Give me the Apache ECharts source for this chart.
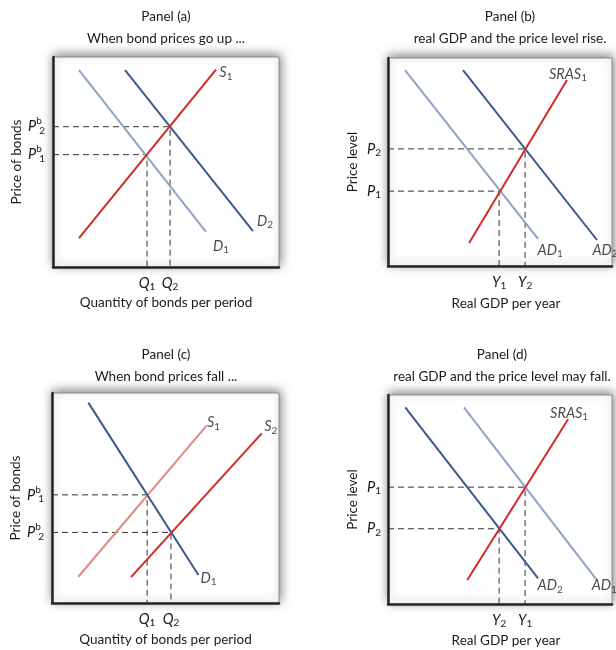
<!DOCTYPE html>
<html><head><meta charset="utf-8">
<script src="https://cdn.jsdelivr.net/npm/echarts@6/dist/echarts.min.js"></script>
<style>html,body{margin:0;padding:0;background:#fff}#c{width:616px;height:650px}</style>
</head><body><div id="c"></div>
<script>
// ---------- data (axes run 0..100 in each panel) ----------
// Panel (a)
const aS1 = [[11.5, 13.8], [72.1, 94.0]];
const aD1 = [[11.5, 93.8], [67.7, 16.7]];
const aD2 = [[31.9, 93.8], [88.5, 17.1]];
const aQ = [41.6, 51.8];
const aP = [53.5, 66.8];
const aQLabels = ['1', '2'];
const aPLabels = ['1', '2'];
// Panel (b)
const bAD1 = [[7.6, 94.2], [67.0, 13.0]];
const bAD2 = [[33.5, 94.2], [93.3, 12.5]];
const bSRAS = [[36.2, 11.1], [79.9, 89.4]];
const bY = [49.6, 61.2];
const bP = [36.0, 56.3];
const bYLabels = ['1', '2'];
const bPLabels = ['1', '2'];
// Panel (c)
const cD1 = [[16.0, 95.4], [64.5, 13.3]];
const cS1 = [[11.6, 12.5], [68.1, 84.5]];
const cS2 = [[34.8, 12.3], [92.4, 80.8]];
const cQ = [41.9, 52.4];
const cP = [51.5, 33.6];
const cQLabels = ['1', '2'];
const cPLabels = ['1', '2'];
// Panel (d)
const dAD2 = [[7.7, 94.1], [67.0, 12.3]];
const dAD1 = [[33.9, 94.1], [93.0, 11.8]];
const dSRAS = [[35.4, 11.5], [80.4, 88.4]];
const dY = [49.6, 61.2];
const dP = [36.0, 55.9];
const dYLabels = ['2', '1'];
const dPLabels = ['2', '1'];

const panelTitles = ['Panel (a)', 'Panel (b)', 'Panel (c)', 'Panel (d)'];
const panelSubtitles = ['When bond prices go up ...', 'real GDP and the price level rise.',
  'When bond prices fall ...', 'real GDP and the price level may fall.'];
const xNames = ['Quantity of bonds per period', 'Real GDP per year', 'Quantity of bonds per period', 'Real GDP per year'];
const yNames = ['Price of bonds', 'Price level', 'Price of bonds', 'Price level'];

// ---------- styles ----------
const FONT = 'Lato, "Open Sans", sans-serif';
const TXT = '#1a1a1a';
const FS = 13.5;
const RED = '#d02b27', LRED = '#e38883', DBLUE = '#3b5a8c', LBLUE = '#8fa3c5';
const rich = {
  i: {fontFamily: FONT, fontSize: 14.5, fontStyle: 'italic', color: TXT},
  sub: {fontFamily: FONT, fontSize: 10, color: TXT, padding: [8, 0, 0, 0]},
  sb: {fontFamily: FONT, fontSize: 10, color: TXT, width: 0.1, align: 'left', padding: [0, 0, 11, 3]}
};

const grids = [
  {left: 53, top: 57, width: 226, height: 210},
  {left: 388, top: 58, width: 224, height: 208},
  {left: 52, top: 393, width: 227, height: 210},
  {left: 388, top: 395, width: 224, height: 209}
].map(g => Object.assign(g, {
  show: true, backgroundColor: '#fff', borderColor: '#8a8a8a', borderWidth: 1,
  shadowColor: 'rgba(0,0,0,0.5)', shadowBlur: 10, shadowOffsetX: 1, shadowOffsetY: -2
}));

const xTick = [aQ, bY, cQ, dY];
const xTickLab = [aQLabels, bYLabels, cQLabels, dYLabels];
const xLetter = ['Q', 'Y', 'Q', 'Y'];
const yTick = [aP, bP, cP, dP];
const yTickLab = [aPLabels, bPLabels, cPLabels, dPLabels];
const ySup = [true, false, true, false];
const xGap = [29, 31, 30, 30];
const yGap = [27, 28, 27, 28];

const axisLine = {show: true, onZero: false, lineStyle: {color: '#262626', width: 2.5}};

const xAxis = grids.map((g, i) => ({
  type: 'value', gridIndex: i, min: 0, max: 100,
  axisLine, axisTick: {show: false}, splitLine: {show: false},
  axisLabel: {
    customValues: xTick[i], margin: 7, rich,
    formatter: v => '{i|' + xLetter[i] + '}{sub|' + xTickLab[i][xTick[i].indexOf(v)] + '}'
  },
  name: xNames[i], nameLocation: 'middle', nameGap: xGap[i],
  nameTextStyle: {fontFamily: FONT, fontSize: FS, color: TXT, padding: i % 2 ? [0, 0, 0, 12] : 0}
}));
const yAxis = grids.map((g, i) => ({
  type: 'value', gridIndex: i, min: 0, max: 100,
  axisLine, axisTick: {show: false}, splitLine: {show: false},
  axisLabel: {
    customValues: yTick[i], margin: ySup[i] ? 8 : 7, rich,
    formatter: v => {
      const k = yTickLab[i][yTick[i].indexOf(v)];
      return ySup[i] ? '{i|P}{sb|b}{sub|' + k + '}' : '{i|P}{sub|' + k + '}';
    }
  },
  name: yNames[i], nameLocation: 'middle', nameGap: yGap[i], nameRotate: 90,
  nameTextStyle: {fontFamily: FONT, fontSize: FS, color: TXT}
}));

const series = [];
function guides(gi, Q, P) {
  Q.forEach((q, k) => series.push({
    type: 'line', xAxisIndex: gi, yAxisIndex: gi, symbol: 'none', silent: true, z: 2,
    data: [[0, P[k]], [q, P[k]], [q, 0]],
    lineStyle: {color: '#333', width: 1, type: [6, 4]}
  }));
}
function curve(gi, pts, color, letters, sub, off) {
  series.push({
    type: 'line', xAxisIndex: gi, yAxisIndex: gi, symbol: 'none', silent: true, z: 3,
    data: pts, lineStyle: {color, width: 2}
  });
  series.push({
    type: 'scatter', xAxisIndex: gi, yAxisIndex: gi, symbolSize: 0.1, silent: true, z: 4,
    data: [pts[pts.length - 1]],
    label: {show: true, position: 'inside', offset: off, rich,
      formatter: '{i|' + letters + '}{sub|' + sub + '}'}
  });
}
guides(0, aQ, aP);
curve(0, aD1, LBLUE, 'D', '1', [15, 14]);
curve(0, aD2, DBLUE, 'D', '2', [12, -10]);
curve(0, aS1, RED, 'S', '1', [10, 3]);

guides(1, bY, bP);
curve(1, bAD1, LBLUE, 'AD', '1', [12, 11]);
curve(1, bAD2, DBLUE, 'AD', '2', [8, 10]);
curve(1, bSRAS, RED, 'SRAS', '1', [1, -6]);

guides(2, cQ, cP);
curve(2, cS1, LRED, 'S', '1', [7, -3]);
curve(2, cS2, RED, 'S', '2', [9, -7]);
curve(2, cD1, DBLUE, 'D', '1', [10, 3]);

guides(3, dY, dP);
curve(3, dAD1, LBLUE, 'AD', '1', [8, 6]);
curve(3, dAD2, DBLUE, 'AD', '2', [12, 7]);
curve(3, dSRAS, RED, 'SRAS', '1', [1, -6]);

const tPos = [[166, 10], [510, 10], [166, 348], [502, 348]];
const title = panelTitles.map((t, i) => ({
  text: t, subtext: panelSubtitles[i], left: tPos[i][0], top: tPos[i][1], textAlign: 'center',
  itemGap: 8, padding: 0,
  textStyle: {fontFamily: FONT, fontSize: FS, fontWeight: 'normal', color: TXT},
  subtextStyle: {fontFamily: FONT, fontSize: FS, color: TXT}
}));

const chart = echarts.init(document.getElementById('c'), null, {renderer: 'canvas'});
chart.setOption({animation: false, backgroundColor: '#fff', title, grid: grids, xAxis, yAxis, series});
</script></body></html>
